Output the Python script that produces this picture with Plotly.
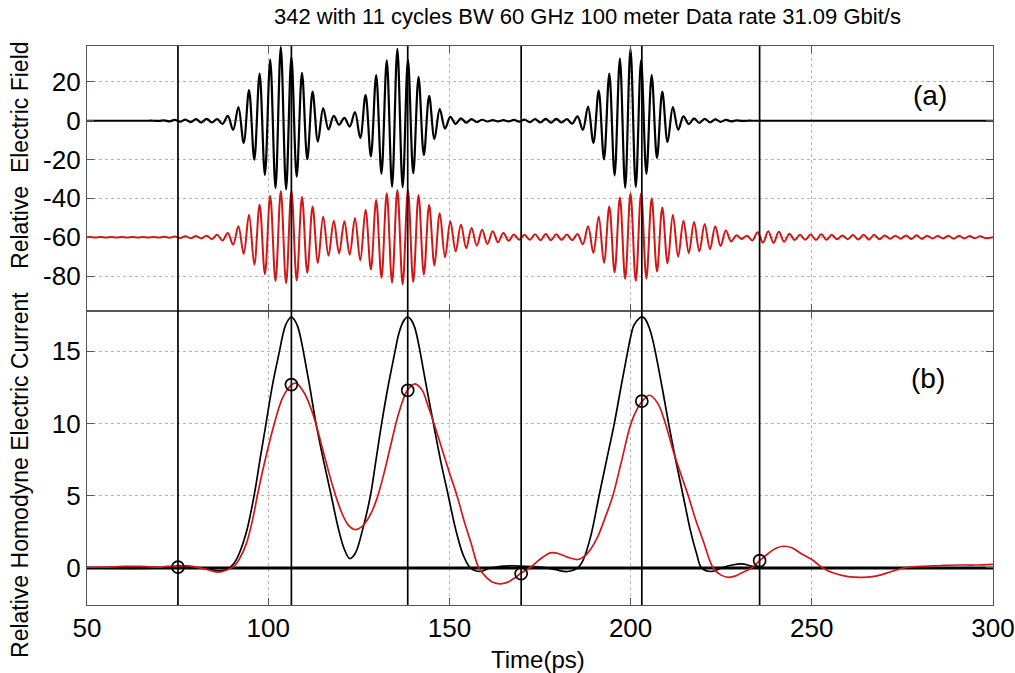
import numpy as np
import plotly.graph_objects as go

# ---------------- data ----------------
carrier_period_ps = 2.924          # 342 GHz carrier
first_peak_ps = 106.4              # time of the central maximum of pulse 1
cycle_index_start = -19            # first listed cycle (t ~ 50.8 ps)

# per-cycle amplitude of the transmitted field (black, panel a)
field_tx_amp = [
    0, 0, 0, 0, 0, 0, 0, 0.2, 0.4, 0.6,            # k=-19..-10
    0.8, 1.0, 0.8, 2.5, 7.0, 15.8, 24.3, 31.5,     # k=-9..-1
    37.9, 32.8, 24.7, 15.0, 6.5, 2.5, 1.5, 4.5,    # k=0..7
    13.3, 23.5, 31.1, 37.0, 31.5, 22.6, 12.8, 6.0, # k=8..15
    2.0, 1.2, 0.8, 0.5, 0.3, 0.3, 0.4, 0.6,        # k=16..23
    0.8, 1.0, 1.0, 0.8, 2.2, 7.3, 15.5, 24.3,      # k=24..31
    32.0, 37.1, 31.1, 23.5, 15.0, 7.0, 2.2, 1.2,   # k=32..39
    1.0, 0.7, 0.4, 0.2, 0, 0, 0, 0,                # k=40..47
    0, 0, 0, 0, 0, 0, 0, 0, 0, 0,                  # k=48..57
    0, 0, 0, 0, 0, 0, 0, 0, 0,                     # k=58..66
]
field_tx_offset = 0.0

# per-cycle amplitude of the received (dispersed) field (red, panel a)
field_rx_amp = [
    0.1, 0.1, 0.1, 0.1, 0.1, 0.1, 0.1, 0.2, 0.3, 0.5,   # k=-19..-10
    0.6, 0.8, 1.2, 2.2, 5.6, 11.6, 16.7, 21.4,          # k=-9..-1
    23.8, 23.8, 20.9, 15.8, 10.7, 8.5, 8.2, 9.9,        # k=0..7
    14.1, 19.2, 22.6, 24.3, 24.3, 21.8, 16.7, 12.4,     # k=8..15
    8.2, 6.5, 4.8, 3.9, 3.1, 2.2, 1.4, 1.2,             # k=16..23
    1.5, 1.6, 1.5, 1.4, 1.7, 5.6, 10.7, 15.8,           # k=24..31
    20.4, 22.6, 22.6, 20.1, 15.3, 11.6, 8.5, 7.8,       # k=32..39
    6.8, 5.6, 3.4, 1.0, 0.8, 2.5, 3.1, 2.8,             # k=40..47
    1.8, 1.2, 1.4, 1.5, 1.2, 0.9, 1.1, 1.3, 1.2, 0.9,   # k=48..57
    0.7, 0.9, 1.0, 0.8, 0.6, 0.7, 0.8, 0.6, 0.5,        # k=58..66
]
field_rx_offset = -60.0

# homodyne current, transmitted (black, panel b)
cur_tx_t = [50, 70, 74, 76, 78, 81, 84, 86.5, 89, 90.5, 92, 94, 96.1, 97.8, 99.4,
            101.2, 103.1, 103.9, 104.7, 105.6, 106.4, 107.2, 108.1, 108.9, 109.7,
            111.5, 113.2, 115.3, 117.4,
            119.2, 121, 122.5, 124, 126, 128.2, 129.7, 131.3, 133.1, 135.0,
            135.8, 136.7, 137.6, 138.5, 139.4, 140.3, 141.1, 141.9,
            143.7, 145.6, 147.6, 149.7, 151.8, 153.8, 155.8,
            158.5, 161.3, 164, 167.4, 171, 175.4, 179, 182.6, 185.4, 187, 189,
            191.3, 193.4, 195.5, 197.4, 199.2, 200.0, 200.9, 202.2, 203.1, 204.0,
            205.2, 206.0, 206.8, 208.7,
            210.5, 212.5, 214.5, 216.5, 218.2, 219.6, 222.3, 225.1, 228, 230.7,
            233, 235.4, 240, 270, 300]
cur_tx_v = [0, 0, 0.1, 0.15, 0.05, 0, -0.1, -0.2, -0.05, 0.3, 1.0, 2.5, 5.0, 7.6, 10.0,
            12.7, 15.0, 16.0, 16.75, 17.2, 17.4, 17.2, 16.75, 16.0, 15.0,
            12.5, 10.0, 7.4, 5.0,
            2.9, 1.3, 0.65, 1.0, 2.6, 5.0, 7.4, 10.0, 12.6, 15.0,
            16.0, 16.75, 17.2, 17.4, 17.2, 16.75, 16.0, 15.0,
            12.5, 10.0, 7.4, 5.0, 2.6, 0.9, 0.0,
            -0.25, 0.0, 0.1, 0.15, 0.1, 0.05, -0.1, -0.25, 0.0, 0.6, 2.2,
            5.0, 7.5, 10.0, 12.6, 15.0, 16.0, 16.8, 17.25, 17.4, 17.25,
            16.6, 15.9, 15.0, 12.5,
            10.0, 7.4, 5.0, 2.6, 1.0, 0.0, -0.25, 0.0, 0.2, 0.28,
            0.15, 0.0, 0.0, 0.0, 0.0]

# homodyne current, received (red, panel b)
cur_rx_t = [50, 55, 60, 65, 70, 72, 75, 78, 80, 83, 86.4, 88.5, 90.5, 92, 94, 96, 97,
            99, 101.7, 104, 106.5, 107.7, 110, 112, 114, 116, 118, 120, 122,
            123.9, 126, 128, 130, 132, 134, 136, 138.4, 140.5, 142.5, 144, 146, 148,
            150, 152.1, 154, 156, 158.1, 160, 162, 164.1, 166, 168, 169.8, 172.4,
            175, 177.9, 180, 182.5, 185.4, 187.5, 189, 191, 193, 195.1, 197.5,
            200.1, 202, 203.4, 205.2, 207.5, 209.6, 212, 214, 215.9, 218, 220, 222.8,
            225, 227, 229, 231, 233.4, 235.6, 238, 240, 242.2, 244.5, 247, 250,
            253, 256, 260, 264.3, 268, 272, 275.5, 280, 285, 290, 295, 300]
cur_rx_v = [0.05, 0.05, 0.1, 0.1, 0.05, 0.1, 0.1, 0.15, 0.05, -0.1, -0.3, -0.15, 0.1,
            0.6, 1.7, 3.7, 5.0, 7.3, 10.0, 11.8, 12.7, 12.8, 12.1, 10.9, 9.2,
            7.3, 5.5, 4.0, 3.0, 2.66, 2.9, 3.6, 4.8, 6.6, 8.7, 10.7, 12.3, 12.75,
            12.3, 11.3, 9.8, 8.2, 6.6, 5.0, 3.3, 1.7, 0.0, -0.6, -1.0, -1.1, -1.0,
            -0.7, -0.35, 0.05, 0.6, 1.04, 1.0, 0.75, 0.58, 0.85, 1.3, 2.2, 3.5,
            5.0, 7.4, 10.0, 11.1, 11.6, 11.96, 11.4, 10.0, 7.9, 6.4, 5.0, 3.3, 1.9,
            0.0, -0.5, -0.65, -0.55, -0.3, 0.0, 0.5, 1.0, 1.35, 1.5, 1.4, 1.0,
            0.58, 0.0, -0.35, -0.6, -0.65, -0.55, -0.25, 0.0, 0.1, 0.15, 0.2, 0.2,
            0.25]

# sampling instants (vertical lines) and sampled received current (circles)
sample_t = [75.1, 106.4, 138.5, 169.8, 203.1, 235.6]
sample_v = [0.05, 12.7, 12.3, -0.4, 11.55, 0.5]

x_ticks = [50, 100, 150, 200, 250, 300]
ya_ticks = [20, 0, -20, -40, -60, -80]
yb_ticks = [0, 5, 10, 15]

title_text = "342 with 11 cycles BW 60 GHz 100 meter Data rate 31.09 Gbit/s"


def carrier_trace(amps, offset):
    """Extrema of the carrier: maxima +A_k, minima between cycles."""
    ts, vs = [50.0], [offset]
    n = len(amps)
    for i, a in enumerate(amps):
        k = cycle_index_start + i
        tmax = first_peak_ps + k * carrier_period_ps
        ts.append(tmax)
        vs.append(offset + a)
        nxt = amps[i + 1] if i + 1 < n else a
        tmin = tmax + carrier_period_ps / 2
        if tmin <= 300:
            ts.append(tmin)
            vs.append(offset - (a + nxt) / 2)
    ts.append(300.0)
    vs.append(offset)
    return ts, vs


RED = "#d01818"
FONT = "Liberation Sans, Arial, sans-serif"

fig = go.Figure()

tx_t, tx_v = carrier_trace(field_tx_amp, field_tx_offset)
rx_t, rx_v = carrier_trace(field_rx_amp, field_rx_offset)

fig.add_trace(go.Scatter(x=rx_t, y=rx_v, mode="lines", line=dict(color=RED, width=2.0, shape="spline", smoothing=1.0),
                         xaxis="x2", yaxis="y2", showlegend=False, hoverinfo="skip"))
fig.add_trace(go.Scatter(x=tx_t, y=tx_v, mode="lines", line=dict(color="black", width=2.2, shape="spline", smoothing=1.0),
                         xaxis="x2", yaxis="y2", showlegend=False, hoverinfo="skip"))

# bottom panel
fig.add_trace(go.Scatter(x=[50, 300], y=[0, 0], mode="lines", line=dict(color="black", width=3),
                         xaxis="x", yaxis="y", showlegend=False, hoverinfo="skip"))
fig.add_trace(go.Scatter(x=cur_tx_t, y=cur_tx_v, mode="lines", line=dict(color="black", width=1.7, shape="spline"),
                         xaxis="x", yaxis="y", showlegend=False))
fig.add_trace(go.Scatter(x=cur_rx_t, y=cur_rx_v, mode="lines", line=dict(color=RED, width=1.7, shape="spline"),
                         xaxis="x", yaxis="y", showlegend=False))
fig.add_trace(go.Scatter(x=sample_t, y=sample_v, mode="markers",
                         marker=dict(symbol="circle-open", size=12, color="black", line=dict(width=1.7)),
                         xaxis="x", yaxis="y", showlegend=False))

for t in sample_t:
    fig.add_shape(type="line", xref="x", yref="paper", x0=t, x1=t, y0=0, y1=1,
                  line=dict(color="black", width=1.7), layer="above")

axis_common = dict(showline=True, linecolor="#555", linewidth=1.2, mirror="ticks", ticks="inside",
                   ticklen=7, tickcolor="#555", showgrid=True, gridcolor="#b8b8b8", griddash="dot",
                   gridwidth=1, zeroline=False, automargin=False,
                   tickfont=dict(family=FONT, size=26, color="black"))

split = 0.526
fig.update_layout(
    width=1015, height=673,
    margin=dict(l=87, r=22, t=46, b=68, autoexpand=False),
    paper_bgcolor="white", plot_bgcolor="white",
    xaxis=dict(axis_common, domain=[0, 1], range=[50, 300], tickvals=x_ticks, anchor="y"),
    xaxis2=dict(axis_common, domain=[0, 1], range=[50, 300], tickvals=x_ticks, anchor="y2",
                matches="x", showticklabels=False),
    yaxis=dict(axis_common, domain=[0, split], range=[-2.57, 17.8], tickvals=yb_ticks, anchor="x"),
    yaxis2=dict(axis_common, domain=[split, 1], range=[-98, 38.5], tickvals=ya_ticks,
                ticktext=[str(v) for v in ya_ticks], anchor="x2"),
    annotations=[
        dict(text=title_text, xref="paper", yref="paper", x=0.552, y=1.052, showarrow=False,
             font=dict(family=FONT, size=22, color="black"), xanchor="center", yanchor="middle"),
        dict(text="Time(ps)", xref="paper", yref="paper", x=0.498, y=-0.098, showarrow=False,
             font=dict(family=FONT, size=24, color="black"), xanchor="center", yanchor="middle"),
        dict(text="Relative  Electric Field", xref="paper", yref="paper", x=-0.074, y=0.805,
             textangle=-90, showarrow=False, font=dict(family=FONT, size=23, color="black"),
             xanchor="center", yanchor="middle"),
        dict(text="Relative Homodyne Electric Current", xref="paper", yref="paper", x=-0.074, y=0.2326,
             textangle=-90, showarrow=False, font=dict(family=FONT, size=23, color="black"),
             xanchor="center", yanchor="middle"),
        dict(text="(a)", xref="paper", yref="paper", x=0.930, y=0.912, showarrow=False,
             font=dict(family=FONT, size=28, color="black"), xanchor="center", yanchor="middle"),
        dict(text="(b)", xref="paper", yref="paper", x=0.928, y=0.406, showarrow=False,
             font=dict(family=FONT, size=28, color="black"), xanchor="center", yanchor="middle"),
    ],
)

fig.write_html("out.html")
